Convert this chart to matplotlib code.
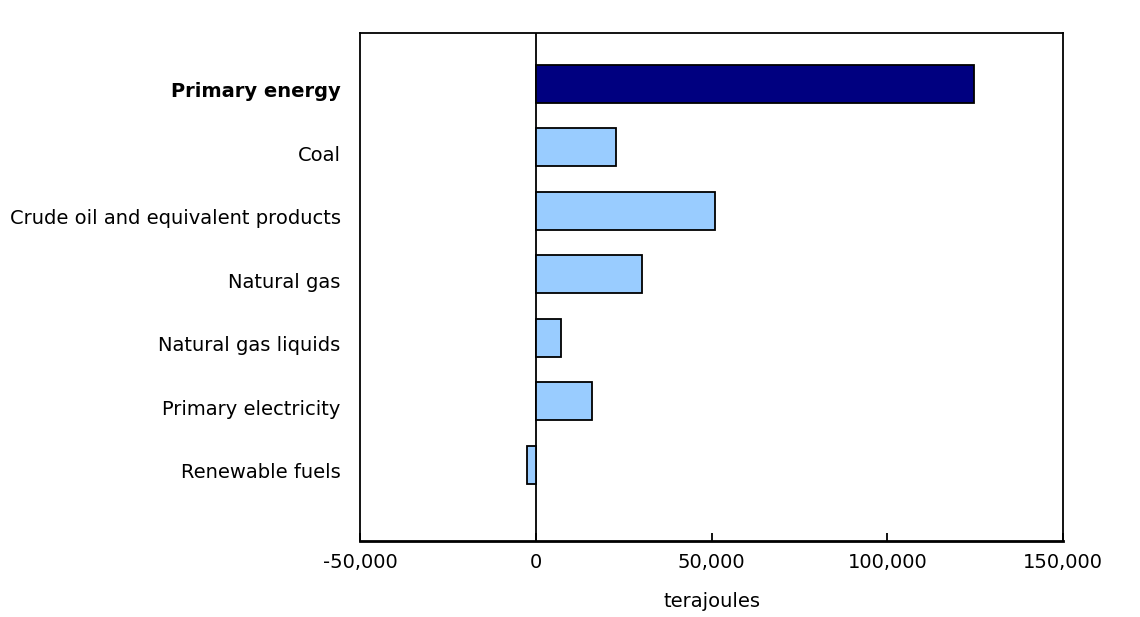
import matplotlib.pyplot as plt
from matplotlib.ticker import FuncFormatter
from matplotlib.transforms import ScaledTranslation

categories = [
    "Primary energy",
    "Coal",
    "Crude oil and equivalent products",
    "Natural gas",
    "Natural gas liquids",
    "Primary electricity",
    "Renewable fuels",
]
values = [124700, 22800, 50900, 30100, 7100, 15900, -2400]
xticks = [-50000, 0, 50000, 100000, 150000]

W, H = 1140, 617
fig = plt.figure(figsize=(W / 100, H / 100), dpi=100)
ax = fig.add_axes([360 / W, 1 - 541 / H, (1063 - 360) / W, (541 - 33) / H])

colors = ["#000080"] + ["#99ccff"] * (len(categories) - 1)
pos = list(range(len(categories)))
ax.barh(pos, values, height=0.6, color=colors, edgecolor="black",
        linewidth=1.3, zorder=3)
ax.axvline(0, color="black", lw=1.3, zorder=2)

ax.set_xlim(-50000, 150000)
ax.set_ylim(len(categories) - 1 + 1.2, -0.8)
ax.set_xticks(xticks)
ax.xaxis.set_major_formatter(FuncFormatter(lambda v, _: f"{int(v):,}"))
ax.tick_params(axis="x", direction="in", length=6, width=1.3,
               labelsize=14, pad=9)
ax.tick_params(axis="y", length=0, pad=14, labelsize=14)
ax.set_yticks(pos)
ax.set_yticklabels(categories)
# labels sit slightly below bar centres in the original
shift = ScaledTranslation(0, -6 / 100, fig.dpi_scale_trans)
for lab in ax.get_yticklabels():
    lab.set_transform(lab.get_transform() + shift)
ax.get_yticklabels()[0].set_fontweight("bold")
ax.set_xlabel("terajoules", fontsize=14, labelpad=14)
for s in ax.spines.values():
    s.set_linewidth(1.3)
ax.spines["bottom"].set_linewidth(2)

fig.savefig("out.png", dpi=100)
